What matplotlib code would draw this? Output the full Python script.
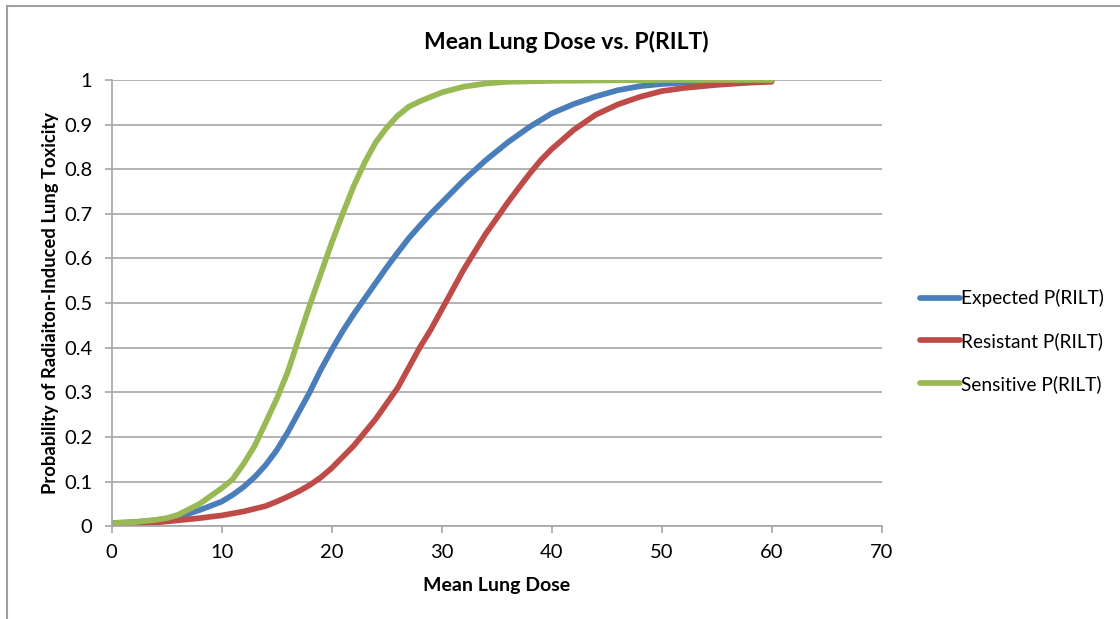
import matplotlib.pyplot as plt
from matplotlib.lines import Line2D

plt.rcParams['font.family'] = ['Lato', 'DejaVu Sans']

# values
dose_sens = [0, 2, 4, 5, 6, 8, 10, 11, 12, 13, 14, 15, 16, 17, 18, 19, 20, 21, 22, 23,
             24, 25, 26, 27, 28, 29, 30, 32, 34, 36, 40, 45, 50, 55, 60]
p_sens = [0.007, 0.009, 0.014, 0.018, 0.025, 0.05, 0.085, 0.105, 0.14, 0.18, 0.232, 0.285,
          0.345, 0.42, 0.495, 0.565, 0.635, 0.70, 0.762, 0.815, 0.86, 0.893, 0.92, 0.94,
          0.952, 0.962, 0.972, 0.985, 0.992, 0.996, 0.998, 0.999, 1.0, 1.0, 1.0]

dose_exp = [0, 2, 4, 6, 8, 10, 11, 12, 13, 14, 15, 16, 17, 18, 19, 20, 21, 22, 23, 24, 25,
            26, 27, 28, 29, 30, 32, 34, 36, 38, 40, 42, 44, 46, 48, 50, 52, 55, 60]
p_exp = [0.007, 0.009, 0.013, 0.02, 0.036, 0.055, 0.07, 0.088, 0.11, 0.137, 0.17, 0.21,
         0.255, 0.30, 0.35, 0.395, 0.437, 0.475, 0.51, 0.545, 0.58, 0.613, 0.645, 0.673,
         0.70, 0.725, 0.775, 0.82, 0.86, 0.895, 0.925, 0.946, 0.963, 0.977, 0.986, 0.991,
         0.994, 0.997, 0.999]

dose_res = [0, 2, 4, 6, 8, 10, 12, 14, 15, 16, 17, 18, 19, 20, 21, 22, 23, 24, 25, 26, 27,
            28, 29, 30, 31, 32, 33, 34, 35, 36, 37, 38, 39, 40, 42, 44, 46, 48, 50, 52, 55,
            58, 60]
p_res = [0.004, 0.006, 0.008, 0.013, 0.018, 0.024, 0.033, 0.045, 0.055, 0.066, 0.078, 0.092,
         0.109, 0.13, 0.155, 0.18, 0.21, 0.24, 0.275, 0.31, 0.355, 0.40, 0.44, 0.485, 0.53,
         0.575, 0.615, 0.655, 0.69, 0.725, 0.758, 0.79, 0.82, 0.845, 0.888, 0.922, 0.945,
         0.962, 0.975, 0.982, 0.989, 0.994, 0.996]

x_ticks = [0, 10, 20, 30, 40, 50, 60, 70]
y_ticks = [0, 0.1, 0.2, 0.3, 0.4, 0.5, 0.6, 0.7, 0.8, 0.9, 1]
y_labels = ['0', '0.1', '0.2', '0.3', '0.4', '0.5', '0.6', '0.7', '0.8', '0.9', '1']

grid_col = '#a6a6a6'

fig = plt.figure(figsize=(11.2, 6.19), dpi=100)
ax = fig.add_axes([0.0997, 0.150, 0.6875, 0.7208])

ax.plot(dose_exp, p_exp, color='#4a7ebb', lw=4.1, label='Expected P(RILT)', solid_capstyle='round')
ax.plot(dose_res, p_res, color='#be4b48', lw=4.1, label='Resistant P(RILT)', solid_capstyle='round')
ax.plot(dose_sens, p_sens, color='#98b954', lw=4.1, label='Sensitive P(RILT)', solid_capstyle='round')

ax.set_xlim(0, 70)
ax.set_ylim(0, 1)
ax.set_xticks(x_ticks)
ax.set_yticks(y_ticks)
ax.set_yticklabels(y_labels)
ax.grid(axis='y', color=grid_col, lw=1.2)
ax.set_axisbelow(True)
for s in ['top', 'right']:
    ax.spines[s].set_visible(False)
for s in ['left', 'bottom']:
    ax.spines[s].set_color(grid_col)
    ax.spines[s].set_linewidth(1.2)
ax.tick_params(axis='both', colors=grid_col, length=5, width=1.2, labelsize=14.5,
               labelcolor='black')
ax.tick_params(axis='y', pad=9)
ax.tick_params(axis='x', pad=8)

ax.set_xlabel('Mean Lung Dose', fontsize=14, fontweight='bold')
ax.xaxis.set_label_coords(0.5, -0.114)
ax.set_ylabel('Probability of Radiaiton-Induced Lung Toxicity', fontsize=13.2,
              fontweight='bold')
ax.yaxis.set_label_coords(-0.068, 0.5)
fig.text(0.506, 0.932, 'Mean Lung Dose vs. P(RILT)', fontsize=16.5, fontweight='bold',
         ha='center', va='center')

ax.legend(loc='center left', bbox_to_anchor=(0.8215, 0.449), bbox_transform=fig.transFigure,
          frameon=False, fontsize=13.8, handlelength=2.1, handletextpad=0.05,
          labelspacing=1.3, borderaxespad=0, borderpad=0)

# outer chart frame (left and top edges visible in the crop)
fig.add_artist(Line2D([0.0065, 0.0065], [0, 0.991], color='#a0a0a0', lw=1.5,
                      transform=fig.transFigure))
fig.add_artist(Line2D([0.0065, 1.0], [0.991, 0.991], color='#a0a0a0', lw=1.5,
                      transform=fig.transFigure))

fig.savefig('out.png', dpi=100)
